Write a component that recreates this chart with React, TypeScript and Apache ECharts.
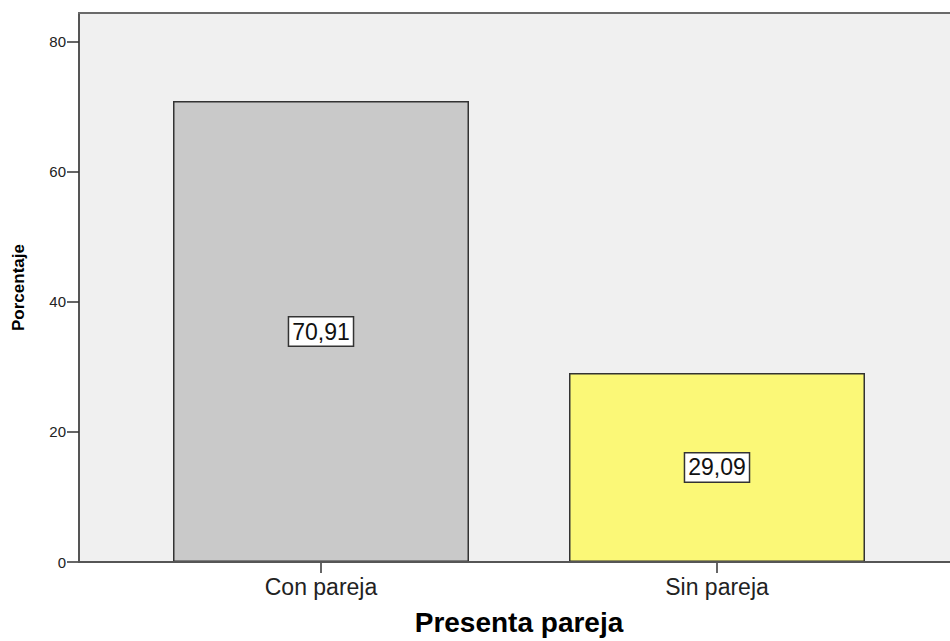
import React, { useEffect, useRef } from "react";
import * as echarts from "echarts";

const categories = ["Con pareja", "Sin pareja"];
const values = [70.91, 29.09];
const barColors = ["#c9c9c9", "#fbf877"];
const yTicks = [0, 20, 40, 60, 80];

const FONT = "Arial, 'Liberation Sans', sans-serif";

export default function App() {
  const ref = useRef<HTMLDivElement>(null);
  useEffect(() => {
    if (!ref.current) return;
    const chart = echarts.init(ref.current, undefined, { renderer: "svg" });
    chart.setOption({
      animation: false,
      graphic: [
        {
          type: "rect",
          z: -10,
          silent: true,
          shape: { x: 79, y: 13, width: 900, height: 549 },
          style: { fill: "#f0f0f0" },
        },
        {
          type: "line",
          z: 10,
          silent: true,
          shape: { x1: 78, y1: 13, x2: 950, y2: 13 },
          style: { stroke: "#6a6a6a", lineWidth: 2 },
        },
        {
          type: "line",
          z: 10,
          silent: true,
          shape: { x1: 78, y1: 562, x2: 950, y2: 562 },
          style: { stroke: "#555555", lineWidth: 2 },
        },
      ],
      grid: { left: 123, right: 35, top: 13, bottom: 79, containLabel: false, outerBoundsMode: "none" },
      xAxis: {
        type: "category",
        data: categories,
        name: "Presenta pareja",
        nameLocation: "middle",
        nameGap: 46,
        nameTextStyle: { fontFamily: FONT, fontSize: 28, fontWeight: "bold", color: "#000" },
        axisLine: { show: false },
        axisTick: { show: true, alignWithLabel: true, length: 11, lineStyle: { color: "#333", width: 1.5 } },
        axisLabel: { fontFamily: FONT, fontSize: 23, color: "#222", margin: 13 },
      },
      yAxis: {
        type: "value",
        min: 0,
        max: 84.46,
        interval: 20,
        offset: 44,
        name: "Porcentaje",
        nameLocation: "middle",
        nameGap: 52,
        nameTextStyle: { fontFamily: FONT, fontSize: 17, fontWeight: "bold", color: "#000" },
        axisLine: { show: true, lineStyle: { color: "#555555", width: 2 } },
        axisTick: { show: true, length: 12, lineStyle: { color: "#333", width: 1.5 }, customValues: yTicks },
        axisLabel: {
          fontFamily: FONT,
          fontSize: 15,
          color: "#222",
          margin: 13,
          customValues: yTicks,
        },
        splitLine: { show: false },
      },
      series: [
        {
          type: "bar",
          barWidth: 296,
          data: values.map((v, i) => ({
            value: v,
            itemStyle: { color: barColors[i], borderColor: "#333", borderWidth: 1.5 },
          })),
          label: {
            show: true,
            position: "inside",
            formatter: (p: any) => p.value.toFixed(2).replace(".", ","),
            fontFamily: FONT,
            fontSize: 23,
            color: "#111",
            backgroundColor: "#ffffff",
            borderColor: "#333",
            borderWidth: 1.5,
            padding: [3, 3, 2, 3],
          },
        },
      ],
    });
    return () => chart.dispose();
  }, []);
  return <div ref={ref} style={{ width: 950, height: 641, position: "absolute", left: 0, top: 0 }} />;
}
